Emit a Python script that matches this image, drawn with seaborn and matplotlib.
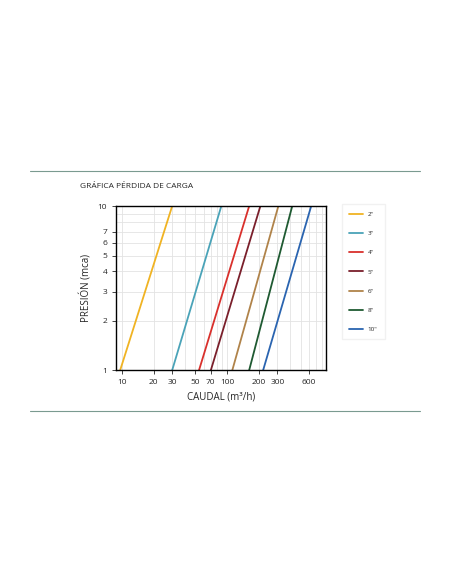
import matplotlib
matplotlib.use("Agg")
import matplotlib.pyplot as plt
import seaborn as sns
import pandas as pd
from matplotlib.ticker import FixedLocator, NullFormatter, NullLocator

sizes = ['2"', '3"', '4"', '5"', '6"', '8"', '10"']
colors = ["#f0b323", "#4aa3b8", "#d9302c", "#7a1f2b", "#b0834a", "#1f5a32", "#2a64b0"]
flow_at_1 = [9.6, 30, 54, 70, 112, 162, 220]
flow_at_10 = [30, 88, 162, 207, 307, 416, 630]
pressures = [1, 10]
xticks = [10, 20, 30, 50, 70, 100, 200, 300, 600]
yticks = [1, 2, 3, 4, 5, 6, 7, 10]

rows = []
for s, a, b in zip(sizes, flow_at_1, flow_at_10):
    rows.append((s, a, pressures[0]))
    rows.append((s, b, pressures[1]))
df = pd.DataFrame(rows, columns=["size", "flow", "p"])

sns.set_style("white")
plt.rcParams['font.family'] = ['Open Sans', 'DejaVu Sans']
fig = plt.figure(figsize=(4.52, 5.84), dpi=100)
ax = fig.add_axes([0.257, 0.366, 0.464, 0.281])
sns.lineplot(data=df, x="flow", y="p", hue="size", palette=colors, ax=ax, lw=1.3, legend=True)
ax.set_xscale("log"); ax.set_yscale("log")
ax.set_xlim(8.8, 870); ax.set_ylim(1, 10)
ax.xaxis.set_major_locator(FixedLocator(xticks))
ax.xaxis.set_minor_locator(NullLocator())
ax.xaxis.set_minor_formatter(NullFormatter())
ax.set_xticklabels([str(t) for t in xticks])
ax.yaxis.set_major_locator(FixedLocator(yticks))
ax.yaxis.set_minor_locator(NullLocator())
ax.yaxis.set_minor_formatter(NullFormatter())
ax.set_yticklabels([str(t) for t in yticks])
import numpy as np
for v in [10,20,30,40,50,60,70,80,90,100,200,300,400,500,600,700,800]:
    ax.axvline(v, color="#e3e3e3", lw=0.6, zorder=0)
for v in [2,3,4,5,6,7,8,9]:
    ax.axhline(v, color="#e3e3e3", lw=0.6, zorder=0)
ax.tick_params(labelsize=6, length=3, direction="out", left=True, bottom=True, width=0.6)
for sp in ax.spines.values():
    sp.set_linewidth(1.0); sp.set_color("black")
ax.set_xlabel("CAUDAL (m³/h)", fontsize=7)
ax.set_ylabel("PRESIÓN (mca)", fontsize=7)
leg = ax.legend(loc="upper left", bbox_to_anchor=(1.06, 1.03), fontsize=4.5, frameon=True,
                labelspacing=2.2, borderpad=1.2, handlelength=2.2, edgecolor="#eeeeee", fancybox=False)
leg.set_title(None)
fig.text(0.177, 0.681, "GRÁFICA PÉRDIDA DE CARGA", fontsize=6, va="center")
fig.add_artist(plt.Line2D([0.066, 0.93], [0.707, 0.707], color="#7a9a90", lw=0.8))
fig.add_artist(plt.Line2D([0.066, 0.93], [0.296, 0.296], color="#7a9a90", lw=0.8))
fig.savefig("out.png", dpi=100)
